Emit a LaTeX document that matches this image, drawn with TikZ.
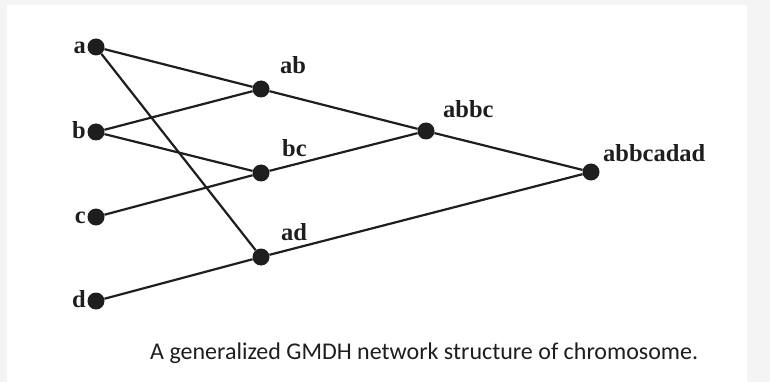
\documentclass[tikz,border=0pt]{standalone}
\usepackage{fontspec}
\setmainfont{Liberation Serif}
\newfontfamily\capfont{Carlito}
\usetikzlibrary{calc}
\definecolor{pagegray}{HTML}{F4F4F4}
\definecolor{ink}{HTML}{1E1E1E}
\tikzset{
  unit/.style={circle, fill=ink, draw=none, minimum size=17pt, inner sep=0pt},
  link/.style={draw=ink, line width=2.2pt},
  tag/.style={font=\fontsize{24.5}{27}\selectfont\bfseries, text=ink, inner sep=0pt},
  caption/.style={font=\capfont\fontsize{24}{27}\selectfont, text=ink, inner sep=0pt}
}
\begin{document}
\begin{tikzpicture}[x=1pt, y=-1pt]
  % page and white panel
  \useasboundingbox (0,0) rectangle (770,382);
  \fill[pagegray] (0,0) rectangle (770,382);
  \fill[white] (7,5) rectangle (747,382);

  % input layer
  \node[unit] (a) at (96,47) {};
  \node[unit] (b) at (96,132) {};
  \node[unit] (c) at (96,217) {};
  \node[unit] (d) at (96,301) {};
  % first combination layer
  \node[unit] (ab) at (261,89) {};
  \node[unit] (bc) at (261,173) {};
  \node[unit] (ad) at (261,257) {};
  % second and third layers
  \node[unit] (abbc) at (426,131) {};
  \node[unit] (abbcadad) at (591,172) {};

  % connections
  \draw[link] (a) -- (ab);
  \draw[link] (a) -- (ad);
  \draw[link] (b) -- (ab);
  \draw[link] (b) -- (bc);
  \draw[link] (c) -- (bc);
  \draw[link] (d) -- (ad);
  \draw[link] (ab) -- (abbc);
  \draw[link] (bc) -- (abbc);
  \draw[link] (abbc) -- (abbcadad);
  \draw[link] (ad) -- (abbcadad);

  % input labels
  \node[tag, anchor=base east] (la) at ($(a)+(-10,6.5)$) {a};
  \node[tag, anchor=base east] (lb) at ($(b)+(-10,6.5)$) {b};
  \node[tag, anchor=base east] (lc) at ($(c)+(-10,6.5)$) {c};
  \node[tag, anchor=base east] (ld) at ($(d)+(-10,6.5)$) {d};
  % combination labels
  \node[tag, anchor=base west] (lab) at ($(ab)+(19,-15)$) {ab};
  \node[tag, anchor=base west] (lbc) at ($(bc)+(21,-16)$) {bc};
  \node[tag, anchor=base west] (lad) at ($(ad)+(20,-17)$) {ad};
  \node[tag, anchor=base west] (labbc) at ($(abbc)+(17,-13.5)$) {abbc};
  \node[tag, anchor=base west] (labbcadad) at ($(abbcadad)+(12,-11)$) {abbcadad};

  % caption
  \node[caption, anchor=base west] (cap) at (150,359) {A generalized GMDH network structure of chromosome.};
\end{tikzpicture}
\end{document}
